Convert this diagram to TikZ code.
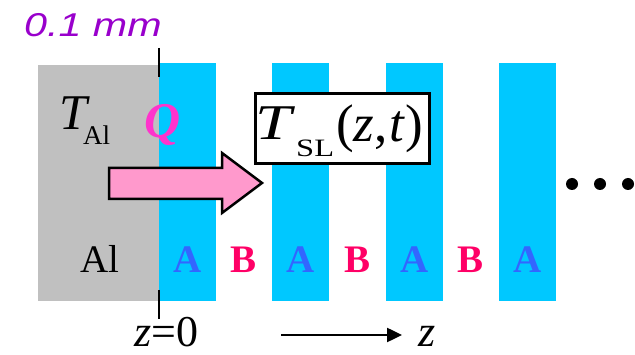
\documentclass[tikz,border=0pt]{standalone}
\usepackage{fontspec}
\setmainfont{Liberation Serif}
\newfontfamily\arialwide[FakeStretch=1.25]{Liberation Sans}
\newfontfamily\serifwide[FakeStretch=1.3]{Liberation Serif}
\usetikzlibrary{arrows.meta}
\definecolor{alGray}{HTML}{C0C0C0}
\definecolor{barBlue}{HTML}{00C8FF}
\definecolor{arrPink}{HTML}{FF99CC}
\definecolor{qPink}{HTML}{FF33CC}
\definecolor{mmPurple}{HTML}{9900CC}
\definecolor{aBlue}{HTML}{3366FF}
\definecolor{bRed}{HTML}{FF0066}
\tikzset{
  bar/.style={fill=barBlue, draw=none},
  txt/.style={anchor=base west, inner sep=0pt},
  lblA/.style={anchor=base, inner sep=0pt, text=aBlue, font=\fontsize{39}{39}\selectfont\bfseries},
  lblB/.style={anchor=base, inner sep=0pt, text=bRed, font=\fontsize{39}{39}\selectfont\bfseries},
  tick/.style={line width=1.8pt, black},
  dotmark/.style={circle, fill=black, inner sep=0pt, minimum size=12pt},
}
\begin{document}
\begin{tikzpicture}[x=1pt,y=-1pt]
\useasboundingbox (0,0) rectangle (635,355);
% Al block
\fill[alGray] (38,65) rectangle (159,301);
% bars
\fill[bar] (159,63) rectangle (216,301.5);
\fill[bar] (272,63) rectangle (329,301.5);
\fill[bar] (386,63) rectangle (443,301.5);
\fill[bar] (499,63) rectangle (556,301.5);
% ticks
\coordinate (tt1) at (159,48);
\coordinate (tt2) at (159,77);
\coordinate (tb1) at (159,290);
\coordinate (tb2) at (159,319);
\draw[tick] (tt1) -- (tt2);
\draw[tick] (tb1) -- (tb2);
% 0.1 mm
\node[txt, text=mmPurple, font=\arialwide\itshape\fontsize{33}{33}\selectfont] (mm) at (24,37) {0.1 mm};
% T_Al
\node[txt, font=\fontsize{50}{50}\selectfont\itshape] (talT) at (59,130) {T};
\node[txt, font=\fontsize{27}{27}\selectfont] (talS) at (83,145) {Al};
% pink arrow
\fill[arrPink, draw=black, line width=2.5pt, line join=miter]
  (109,168) -- (222,168) -- (222,153) -- (262,183) -- (222,213) -- (222,199) -- (109,199) -- cycle;
% Q
\node[txt, text=qPink, font=\fontsize{50}{50}\selectfont\bfseries\itshape] (q) at (144,138) {Q};
% T_SL box
\node[draw=black, line width=3pt, fill=white, minimum width=174pt, minimum height=70pt, inner sep=0pt] (tsl) at (342.5,128.5) {};
\node[txt, font=\serifwide\fontsize{50}{50}\selectfont\itshape] (tslT) at (255,140) {T};
\node[txt, font=\serifwide\fontsize{25}{25}\selectfont] (tslS) at (296,157) {SL};
\node[txt, font=\fontsize{53}{53}\selectfont] (tslA) at (336,142) {(\textit{z},\kern2pt\textit{t})};
% labels
\node[anchor=base, inner sep=0pt, font=\fontsize{39}{39}\selectfont] (al) at (100,273) {Al};
\node[lblA] (a1) at (187.5,273) {A};
\node[lblB] (b1) at (243.5,273) {B};
\node[lblA] (a2) at (300.5,273) {A};
\node[lblB] (b2) at (357.5,273) {B};
\node[lblA] (a3) at (414.5,273) {A};
\node[lblB] (b3) at (471,273) {B};
\node[lblA] (a4) at (527.5,273) {A};
% dots
\node[dotmark] (d1) at (572,184) {};
\node[dotmark] (d2) at (600,184) {};
\node[dotmark] (d3) at (628,184) {};
% z axis
\node[txt, font=\fontsize{44}{44}\selectfont] (z0) at (134,347) {\textit{z}=0};
\node[txt, font=\fontsize{44}{44}\selectfont\itshape] (zl) at (418,347) {z};
\coordinate (zs) at (281,335);
\coordinate (ze) at (402,335);
\draw[line width=2.5pt, -{Triangle[length=15pt,width=14pt]}] (zs) -- (ze);
\end{tikzpicture}
\end{document}
